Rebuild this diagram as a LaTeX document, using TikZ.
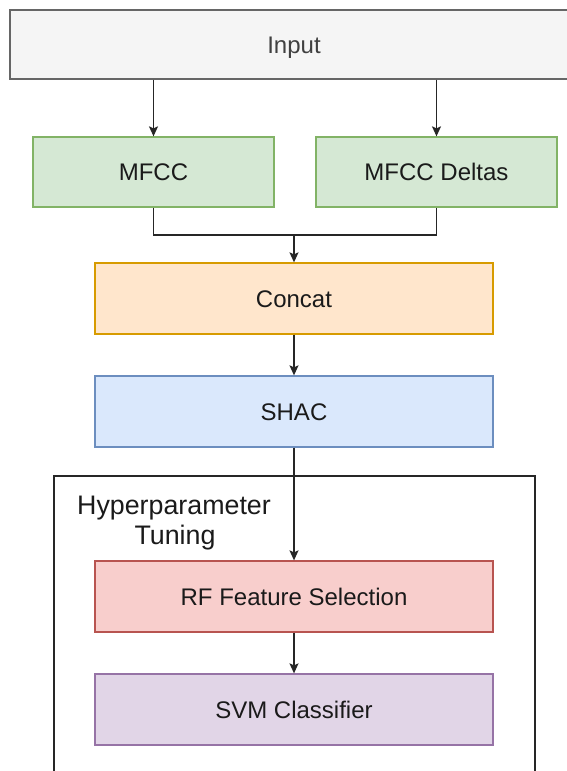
\documentclass[tikz,border=0pt]{standalone}
\usepackage{fontspec}
\setmainfont{Liberation Sans}
\usetikzlibrary{arrows.meta}
\definecolor{inFill}{HTML}{F5F5F5}\definecolor{inLine}{HTML}{666666}
\definecolor{gFill}{HTML}{D5E8D4}\definecolor{gLine}{HTML}{82B366}
\definecolor{oFill}{HTML}{FFE6CC}\definecolor{oLine}{HTML}{D79B00}
\definecolor{bFill}{HTML}{DAE8FC}\definecolor{bLine}{HTML}{6C8EBF}
\definecolor{rFill}{HTML}{F8CECC}\definecolor{rLine}{HTML}{B85450}
\definecolor{pFill}{HTML}{E1D5E7}\definecolor{pLine}{HTML}{9673A6}
\definecolor{txt}{HTML}{1A1A1A}
\tikzset{
  blk/.style={draw, line width=1.3pt, rectangle, inner sep=0pt, text=txt,
    font=\fontsize{24}{28}\selectfont, text height=17.2pt, text depth=0pt},
  flow/.style={draw=black!85, line width=1.3pt, -{Stealth[length=10pt,width=9pt,inset=2pt]}},
  plain/.style={draw=black!85, line width=1.3pt},
  caption/.style={font=\fontsize{26.8}{30}\selectfont, text=txt, anchor=base, inner sep=0pt},
}
\begin{document}
\begin{tikzpicture}[x=1pt,y=-1pt]
\useasboundingbox (0,0) rectangle (567,771);
\clip (0,0) rectangle (567,771);
\fill[white] (0,0) rectangle (567,771);

% outer tuning container (runs past the lower edge)
\draw[line width=1.3pt, draw=black!85] (54,476) rectangle (535,800);
\node[caption] (hpa) at (174,514) {Hyperparameter};
\node[caption] (hpb) at (175,544) {Tuning};

% processing blocks
\node[blk, fill=inFill, draw=inLine, minimum width=568pt, minimum height=69pt, text=black!75] (input) at (294,44.5) {Input};
\node[blk, fill=gFill, draw=gLine, minimum width=241pt, minimum height=70pt] (mfcc) at (153.5,172) {MFCC};
\node[blk, fill=gFill, draw=gLine, minimum width=241pt, minimum height=70pt] (delta) at (436.5,172) {MFCC Deltas};
\node[blk, fill=oFill, draw=oLine, minimum width=398pt, minimum height=71pt] (concat) at (294,298.5) {Concat};
\node[blk, fill=bFill, draw=bLine, minimum width=398pt, minimum height=71pt] (shac) at (294,411.5) {SHAC};
\node[blk, fill=rFill, draw=rLine, minimum width=398pt, minimum height=71pt] (rf) at (294,596.5) {RF Feature Selection};
\node[blk, fill=pFill, draw=pLine, minimum width=398pt, minimum height=71pt] (svm) at (294,709.5) {SVM Classifier};

% connectors
\draw[flow] (input.south -| mfcc.north) -- (mfcc.north);
\draw[flow] (input.south -| delta.north) -- (delta.north);
\coordinate (join) at (294,235);
\draw[plain] (mfcc.south) |- (join) -| (delta.south);
\draw[flow] (join) -- (concat.north);
\draw[flow] (concat) -- (shac);
\draw[flow] (shac) -- (rf);
\draw[flow] (rf) -- (svm);
\end{tikzpicture}
\end{document}
